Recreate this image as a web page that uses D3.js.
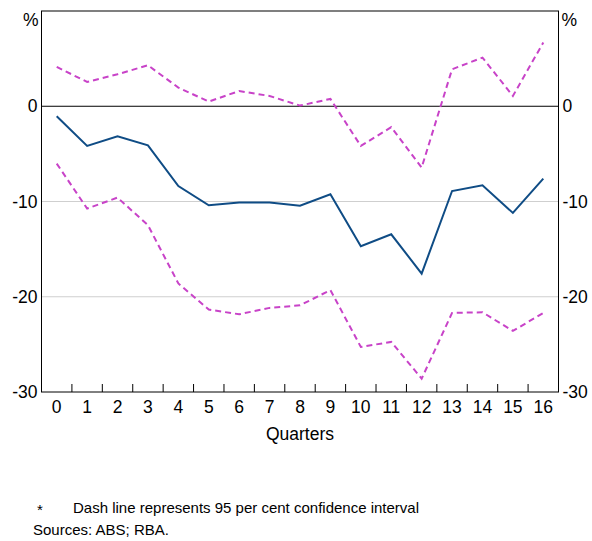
<!DOCTYPE html>
<html><head><meta charset="utf-8">
<script src="https://cdn.jsdelivr.net/npm/d3@7/dist/d3.min.js"></script>
<style>
body{margin:0;background:#fff;}
text{font-family:"Liberation Sans",Arial,sans-serif;fill:#000;}
</style></head>
<body><svg id="c" width="592" height="541"></svg>
<script>
const quarters = ["0","1","2","3","4","5","6","7","8","9","10","11","12","13","14","15","16"];
const estimate = [-1.05,-4.17,-3.15,-4.1,-8.37,-10.4,-10.1,-10.1,-10.45,-9.24,-14.7,-13.44,-17.57,-8.9,-8.3,-11.2,-7.6];
const upperCI = [4.13,2.55,3.36,4.3,1.96,0.49,1.6,1.08,0.07,0.77,-4.17,-2.2,-6.44,3.88,5.11,1.08,6.69];
const lowerCI = [-6.02,-10.74,-9.59,-12.49,-18.6,-21.35,-21.84,-21.17,-20.9,-19.3,-25.27,-24.74,-28.6,-21.7,-21.63,-23.59,-21.7];
const yTicks = [-30,-20,-10,0];
const gridTicks = [-20,-10];

const svg = d3.select("#c");
const L = 41.5, R = 558.5, T = 11, B = 392;
const x = d3.scaleBand().domain(quarters).range([L, R]).padding(0);
const y = d3.scaleLinear().domain([-30, 10]).range([B, T]);
const fs = 17.5;

// gridlines
svg.selectAll(".grid").data(gridTicks).enter().append("line")
  .attr("x1", L).attr("x2", R).attr("y1", d => y(d)).attr("y2", d => y(d))
  .attr("stroke", "#cfcfcf").attr("stroke-width", 1.2);
// zero line
svg.append("line").attr("x1", L).attr("x2", R).attr("y1", y(0)).attr("y2", y(0))
  .attr("stroke", "#000").attr("stroke-width", 1);

// frame
svg.append("rect").attr("x", L).attr("y", T).attr("width", R - L).attr("height", B - T)
  .attr("fill", "none").attr("stroke", "#000").attr("stroke-width", 1);

// x ticks at band boundaries (inward)
const bounds = quarters.slice(1).map(q => x(q));
svg.selectAll(".xt").data(bounds).enter().append("line")
  .attr("x1", d => d).attr("x2", d => d).attr("y1", B).attr("y2", B - 8)
  .attr("stroke", "#000").attr("stroke-width", 1);

// x labels
svg.selectAll(".xl").data(quarters).enter().append("text")
  .attr("x", d => x(d) + x.bandwidth() / 2).attr("y", B + 21)
  .attr("text-anchor", "middle").attr("font-size", fs).text(d => d);
svg.append("text").attr("x", (L + R) / 2).attr("y", B + 48).attr("text-anchor", "middle")
  .attr("font-size", fs).text("Quarters");

// y labels
svg.selectAll(".yl").data(yTicks).enter().append("text")
  .attr("x", L - 4).attr("y", d => y(d)).attr("dy", "0.35em").attr("text-anchor", "end")
  .attr("font-size", fs).text(d => d);
svg.selectAll(".yr").data(yTicks).enter().append("text")
  .attr("x", R + 4).attr("y", d => y(d)).attr("dy", "0.35em").attr("text-anchor", "start")
  .attr("font-size", fs).text(d => d);
svg.append("text").attr("x", L - 3).attr("y", 26).attr("text-anchor", "end").attr("font-size", fs).text("%");
svg.append("text").attr("x", R + 3).attr("y", 26).attr("text-anchor", "start").attr("font-size", fs).text("%");

const line = d3.line().x((d, i) => x(quarters[i]) + x.bandwidth() / 2).y(d => y(d));
[upperCI, lowerCI].forEach(s => {
  svg.append("path").datum(s).attr("d", line).attr("fill", "none")
    .attr("stroke", "#c843c8").attr("stroke-width", 2).attr("stroke-dasharray", "6,4");
});
svg.append("path").datum(estimate).attr("d", line).attr("fill", "none")
  .attr("stroke", "#0f4c85").attr("stroke-width", 2);

// notes
svg.append("text").attr("x", 37).attr("y", 515).attr("font-size", 15).text("*");
svg.append("text").attr("x", 73).attr("y", 513).attr("font-size", 15).text("Dash line represents 95 per cent confidence interval");
svg.append("text").attr("x", 33).attr("y", 535).attr("font-size", 15).text("Sources: ABS; RBA.");
</script></body></html>
